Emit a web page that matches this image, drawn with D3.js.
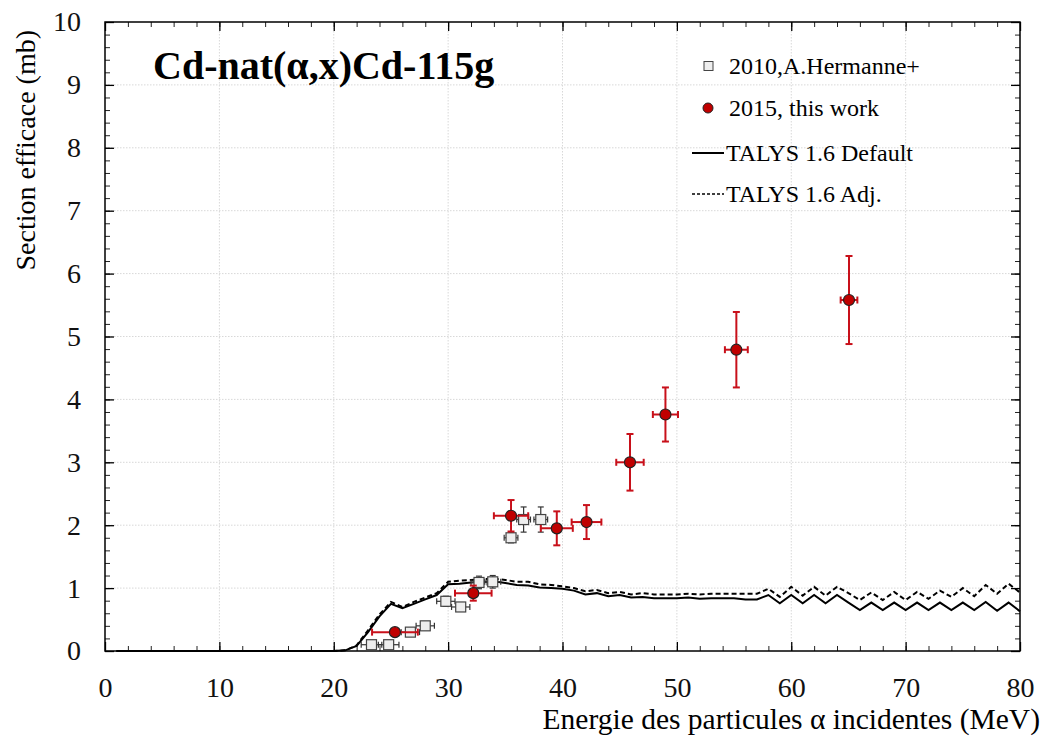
<!DOCTYPE html>
<html lang="fr">
<head>
<meta charset="UTF-8">
<title>Cd-nat(α,x)Cd-115g</title>
<script src="https://d3js.org/d3.v7.min.js"></script>
<style>
body { margin: 0; background: #fff; }
text { font-family: "Liberation Serif", "DejaVu Serif", serif; }
</style>
</head>
<body>
<div id="container"></div>
<script>
// --- data ---
// 2010, A.Hermanne+ : energy (MeV), cross section (mb), errors
const hermE   = [23.3, 24.8, 26.7, 28.0, 29.8, 31.1, 32.7, 33.9, 35.5, 36.6, 38.1];
const hermY   = [0.10, 0.10, 0.30, 0.40, 0.79, 0.70, 1.09, 1.10, 1.80, 2.09, 2.09];
const hermDx  = [0.9, 0.9, 0.8, 0.8, 0.8, 0.8, 0.7, 0.7, 0.6, 0.6, 0.6];
const hermDy  = [0.03, 0.03, 0.04, 0.05, 0.08, 0.07, 0.10, 0.10, 0.08, 0.20, 0.20];

// 2015, this work
const workE   = [25.35, 32.2, 35.5, 39.5, 42.1, 45.9, 49.0, 55.2, 65.05];
const workY   = [0.30, 0.92, 2.15, 1.95, 2.05, 3.00, 3.76, 4.79, 5.58];
const workDx  = [2.0, 1.6, 1.5, 1.4, 1.3, 1.2, 1.1, 1.0, 0.73];
const workDy  = [0.0, 0.12, 0.25, 0.27, 0.27, 0.45, 0.43, 0.60, 0.70];

// TALYS curves
const talysE = [1, 20, 21, 22, 23, 24, 25, 26, 27, 28, 29, 30, 31, 32, 33, 34, 35, 36, 37, 38, 39, 40,
  41, 42, 43, 44, 45, 46, 47, 48, 49, 50, 51, 52, 53, 54, 55, 56, 57, 58, 59, 60,
  61, 62, 63, 64, 65, 66, 67, 68, 69, 70, 71, 72, 73, 74, 75, 76, 77, 78, 79, 80];
const talysDefault = [0, 0, 0.01, 0.08, 0.30, 0.55, 0.75, 0.68, 0.75, 0.82, 0.89, 1.06, 1.07, 1.09, 1.10, 1.11, 1.08, 1.05, 1.04, 1.01, 1.00, 0.99,
  0.96, 0.90, 0.92, 0.87, 0.89, 0.85, 0.86, 0.84, 0.84, 0.84, 0.85, 0.83, 0.84, 0.84, 0.84, 0.82, 0.82, 0.89, 0.76, 0.89,
  0.76, 0.89, 0.76, 0.89, 0.77, 0.65, 0.77, 0.65, 0.77, 0.65, 0.77, 0.65, 0.77, 0.65, 0.77, 0.65, 0.78, 0.64, 0.77, 0.63];
const talysAdj = [0, 0, 0.01, 0.09, 0.33, 0.58, 0.78, 0.70, 0.78, 0.85, 0.92, 1.10, 1.12, 1.13, 1.14, 1.15, 1.13, 1.10, 1.10, 1.06, 1.05, 1.03,
  1.00, 0.95, 0.97, 0.92, 0.94, 0.90, 0.92, 0.90, 0.90, 0.90, 0.91, 0.90, 0.91, 0.91, 0.91, 0.91, 0.91, 0.99, 0.86, 1.02,
  0.88, 1.02, 0.88, 1.02, 0.92, 0.81, 0.93, 0.81, 0.94, 0.81, 0.94, 0.83, 0.96, 0.86, 1.00, 0.87, 1.05, 0.91, 1.07, 0.93];

const xTicks = [0, 10, 20, 30, 40, 50, 60, 70, 80];
const yTicks = [0, 1, 2, 3, 4, 5, 6, 7, 8, 9, 10];

const legendLabels = ["2010,A.Hermanne+", "2015, this work", "TALYS 1.6 Default", "TALYS 1.6 Adj."];

// --- layout ---
const width = 1043, height = 737;
const mLeft = 105, mRight = 1020, mTop = 22, mBottom = 651;

const svg = d3.select("#container").append("svg")
  .attr("width", width)
  .attr("height", height);

const x = d3.scaleLinear().domain([0, 80]).range([mLeft, mRight]);
const y = d3.scaleLinear().domain([0, 10]).range([mBottom, mTop]);

// grid
const grid = svg.append("g").attr("stroke", "#d8d8d8").attr("stroke-dasharray", "1.5,1.5").attr("stroke-width", 1);
grid.selectAll(".gx").data(xTicks.slice(1, -1)).join("line")
  .attr("x1", d => x(d)).attr("x2", d => x(d)).attr("y1", mTop).attr("y2", mBottom);
grid.selectAll(".gy").data(yTicks.slice(1, -1)).join("line")
  .attr("y1", d => y(d)).attr("y2", d => y(d)).attr("x1", mLeft).attr("x2", mRight);

// axes with inward ticks on all four sides
function axisSide(axisFn, scale, transform, major, minorStep, pad) {
  const minor = d3.range(scale.domain()[0], scale.domain()[1] + 1e-9, minorStep);
  svg.append("g").attr("transform", transform)
    .call(axisFn(scale).tickValues(minor).tickSize(-5).tickFormat(""))
    .call(g => g.select(".domain").remove())
    .call(g => g.selectAll("line").attr("stroke", "#222"));
  const g = svg.append("g").attr("transform", transform)
    .call(axisFn(scale).tickValues(major).tickSize(-9).tickPadding(pad || 0)
      .tickFormat(pad ? d3.format("d") : ""));
  g.select(".domain").remove();
  g.selectAll("line").attr("stroke", "#000").attr("stroke-width", 1.3);
  g.selectAll("text").attr("font-size", 28).attr("fill", "#111")
    .style("font-family", "'Liberation Serif', serif");
  return g;
}
axisSide(d3.axisBottom, x, `translate(0,${mBottom})`, xTicks, 2, 26);
axisSide(d3.axisTop, x, `translate(0,${mTop})`, xTicks, 2, 0);
axisSide(d3.axisLeft, y, `translate(${mLeft},0)`, yTicks, 0.2, 24);
axisSide(d3.axisRight, y, `translate(${mRight},0)`, yTicks, 0.2, 0);

svg.append("rect")
  .attr("x", mLeft).attr("y", mTop)
  .attr("width", mRight - mLeft).attr("height", mBottom - mTop)
  .attr("fill", "none").attr("stroke", "#000").attr("stroke-width", 1.5);

// TALYS lines
const lineDef = d3.line().x((d, i) => x(talysE[i])).y(d => y(d));
svg.append("path").datum(talysAdj)
  .attr("fill", "none").attr("stroke", "#000").attr("stroke-width", 2)
  .attr("stroke-dasharray", "5,3").attr("d", lineDef);
svg.append("path").datum(talysDefault)
  .attr("fill", "none").attr("stroke", "#000").attr("stroke-width", 2)
  .attr("d", lineDef);

// error bar helper
function errorBars(g, xs, ys, dxs, dys, color, cap, w) {
  const data = xs.map((e, i) => ({ e, v: ys[i], dx: dxs[i], dy: dys[i] }));
  const eb = g.selectAll(null).data(data).join("g")
    .attr("stroke", color).attr("stroke-width", w);
  eb.append("line")
    .attr("x1", d => x(d.e - d.dx)).attr("x2", d => x(d.e + d.dx))
    .attr("y1", d => y(d.v)).attr("y2", d => y(d.v));
  eb.append("line")
    .attr("x1", d => x(d.e - d.dx)).attr("x2", d => x(d.e - d.dx))
    .attr("y1", d => y(d.v) - cap).attr("y2", d => y(d.v) + cap);
  eb.append("line")
    .attr("x1", d => x(d.e + d.dx)).attr("x2", d => x(d.e + d.dx))
    .attr("y1", d => y(d.v) - cap).attr("y2", d => y(d.v) + cap);
  eb.filter(d => d.dy > 0).append("line")
    .attr("x1", d => x(d.e)).attr("x2", d => x(d.e))
    .attr("y1", d => y(d.v - d.dy)).attr("y2", d => y(d.v + d.dy));
  eb.filter(d => d.dy > 0).append("line")
    .attr("x1", d => x(d.e) - cap).attr("x2", d => x(d.e) + cap)
    .attr("y1", d => y(d.v + d.dy)).attr("y2", d => y(d.v + d.dy));
  eb.filter(d => d.dy > 0).append("line")
    .attr("x1", d => x(d.e) - cap).attr("x2", d => x(d.e) + cap)
    .attr("y1", d => y(d.v - d.dy)).attr("y2", d => y(d.v - d.dy));
}

// Hermanne squares
const gH = svg.append("g");
errorBars(gH, hermE, hermY, hermDx, hermDy, "#333", 3, 1.2);
gH.selectAll("rect").data(hermE).join("rect")
  .attr("x", (d) => x(d) - 5).attr("y", (d, i) => y(hermY[i]) - 5)
  .attr("width", 10).attr("height", 10)
  .attr("fill", "#eeeeee").attr("stroke", "#444").attr("stroke-width", 1.2);

// this work
const gW = svg.append("g");
errorBars(gW, workE, workY, workDx, workDy, "#c8101a", 3.5, 2);
gW.selectAll("circle").data(workE).join("circle")
  .attr("cx", d => x(d)).attr("cy", (d, i) => y(workY[i]))
  .attr("r", 5.5)
  .attr("fill", "#c00000").attr("stroke", "#222").attr("stroke-width", 1.2);

// title
svg.append("text")
  .attr("x", 153).attr("y", 79)
  .attr("font-size", 40).attr("font-weight", "bold")
  .text("Cd-nat(α,x)Cd-115g");

// axis labels
svg.append("text")
  .attr("transform", "translate(35,30) rotate(-90)")
  .attr("text-anchor", "end")
  .attr("font-size", 28)
  .text("Section efficace (mb)");
svg.append("text")
  .attr("x", 1040).attr("y", 729)
  .attr("text-anchor", "end")
  .attr("font-size", 29.5)
  .text("Energie des particules α incidentes (MeV)");

// legend
const lg = svg.append("g");
const ly = [66, 108, 153, 194];
lg.append("rect").attr("x", 704).attr("y", ly[0] - 4.5).attr("width", 9).attr("height", 9)
  .attr("fill", "#eee").attr("stroke", "#444");
lg.append("circle").attr("cx", 708).attr("cy", ly[1]).attr("r", 5)
  .attr("fill", "#c00000").attr("stroke", "#222");
lg.append("line").attr("x1", 692).attr("x2", 724).attr("y1", ly[2]).attr("y2", ly[2])
  .attr("stroke", "#000").attr("stroke-width", 2);
lg.append("line").attr("x1", 692).attr("x2", 724).attr("y1", ly[3]).attr("y2", ly[3])
  .attr("stroke", "#000").attr("stroke-width", 1.5).attr("stroke-dasharray", "3,2");
lg.selectAll("text").data(legendLabels).join("text")
  .attr("x", (d, i) => i < 2 ? 729 : 726)
  .attr("y", (d, i) => ly[i] + 8)
  .attr("font-size", 24)
  .text(d => d);
</script>
</body>
</html>
